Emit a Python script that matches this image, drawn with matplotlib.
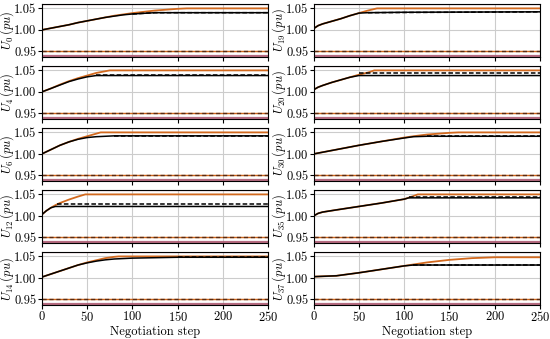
import matplotlib
matplotlib.use("Agg")
import matplotlib.pyplot as plt

plt.rcParams['font.family'] = 'serif'
plt.rcParams['font.serif'] = ['cmr10', 'DejaVu Serif']
plt.rcParams['mathtext.fontset'] = 'cm'
plt.rcParams['axes.formatter.use_mathtext'] = True
plt.rcParams['font.size'] = 9

# node labels, left column first then right column
nodes = ['0', '4', '6', '12', '14', '19', '20', '30', '35', '37']

# each series: (steps, values)
orange = {
    '0': ([0, 10, 20, 30, 40, 50, 60, 70, 80, 90, 100, 125, 150, 160, 250],
          [1.000, 1.004, 1.008, 1.012, 1.017, 1.021, 1.025, 1.029, 1.033, 1.036, 1.039, 1.045, 1.049, 1.050, 1.050]),
    '4': ([0, 10, 20, 30, 40, 50, 60, 70, 75, 250],
          [1.000, 1.008, 1.017, 1.025, 1.032, 1.038, 1.044, 1.048, 1.050, 1.050]),
    '6': ([0, 10, 20, 30, 40, 50, 60, 65, 250],
          [1.000, 1.010, 1.020, 1.028, 1.035, 1.041, 1.047, 1.050, 1.050]),
    '12': ([0, 5, 10, 15, 20, 30, 40, 48, 250],
           [1.003, 1.012, 1.019, 1.025, 1.030, 1.038, 1.045, 1.050, 1.050]),
    '14': ([0, 10, 20, 30, 40, 50, 60, 70, 80, 85, 250],
           [1.002, 1.009, 1.016, 1.023, 1.030, 1.036, 1.041, 1.046, 1.049, 1.050, 1.050]),
    '19': ([0, 5, 10, 20, 30, 40, 50, 60, 70, 250],
           [1.003, 1.010, 1.014, 1.020, 1.026, 1.033, 1.039, 1.045, 1.050, 1.050]),
    '20': ([0, 5, 10, 20, 30, 40, 50, 60, 67, 250],
           [1.005, 1.011, 1.015, 1.022, 1.028, 1.034, 1.040, 1.045, 1.050, 1.050]),
    '30': ([0, 25, 50, 75, 100, 110, 125, 150, 160, 250],
           [1.000, 1.010, 1.020, 1.029, 1.038, 1.041, 1.045, 1.049, 1.050, 1.050]),
    '35': ([0, 5, 10, 25, 50, 75, 100, 110, 115, 250],
           [1.000, 1.006, 1.009, 1.014, 1.022, 1.030, 1.039, 1.046, 1.050, 1.050]),
    '37': ([0, 25, 50, 75, 100, 125, 150, 175, 200, 250],
           [1.003, 1.005, 1.012, 1.020, 1.028, 1.036, 1.042, 1.046, 1.048, 1.048]),
}

black = {
    '0': ([0, 10, 20, 30, 40, 50, 60, 70, 80, 90, 100, 125, 250],
          [1.000, 1.004, 1.008, 1.012, 1.017, 1.021, 1.025, 1.029, 1.032, 1.035, 1.037, 1.040, 1.040]),
    '4': ([0, 10, 20, 30, 40, 50, 60, 250],
          [1.000, 1.008, 1.016, 1.024, 1.030, 1.035, 1.038, 1.038]),
    '6': ([0, 10, 20, 30, 40, 50, 60, 70, 80, 250],
          [1.000, 1.010, 1.020, 1.028, 1.034, 1.038, 1.040, 1.041, 1.042, 1.042]),
    '12': ([0, 5, 10, 15, 250],
           [1.003, 1.012, 1.019, 1.022, 1.022]),
    '14': ([0, 10, 20, 30, 40, 50, 60, 70, 80, 100, 125, 150, 250],
           [1.002, 1.009, 1.016, 1.023, 1.030, 1.035, 1.039, 1.042, 1.044, 1.046, 1.047, 1.048, 1.048]),
    '19': ([0, 5, 10, 20, 30, 40, 50, 60, 100, 250],
           [1.003, 1.010, 1.014, 1.020, 1.026, 1.033, 1.039, 1.040, 1.041, 1.042]),
    '20': ([0, 5, 10, 20, 30, 40, 50, 250],
           [1.005, 1.011, 1.015, 1.022, 1.028, 1.034, 1.038, 1.038]),
    '30': ([0, 25, 50, 75, 100, 110, 125, 250],
           [1.000, 1.010, 1.020, 1.029, 1.037, 1.040, 1.041, 1.041]),
    '35': ([0, 5, 10, 25, 50, 75, 100, 105, 250],
           [1.000, 1.006, 1.009, 1.014, 1.022, 1.030, 1.039, 1.042, 1.042]),
    '37': ([0, 25, 50, 75, 100, 110, 250],
           [1.003, 1.005, 1.012, 1.020, 1.028, 1.030, 1.030]),
}

dashed = {
    '0': ([100, 125, 250], [1.037, 1.040, 1.040]),
    '4': ([60, 250], [1.040, 1.040]),
    '6': ([80, 250], [1.042, 1.042]),
    '12': ([17, 250], [1.027, 1.027]),
    '14': ([150, 250], [1.048, 1.048]),
    '19': ([60, 250], [1.040, 1.042]),
    '20': ([50, 250], [1.043, 1.043]),
    '30': ([125, 250], [1.041, 1.041]),
    '35': ([105, 250], [1.043, 1.043]),
    '37': ([110, 250], [1.031, 1.031]),
}

v_low, v_high = 0.95, 1.05
v_min, v_max = 0.94, 1.06

fig, axes = plt.subplots(5, 2, figsize=(5.5, 3.39), dpi=100, sharex=True)
fig.subplots_adjust(left=0.076, right=0.982, top=0.988, bottom=0.1,
                    hspace=0.17, wspace=0.2)

for i, n in enumerate(nodes):
    ax = axes[i % 5, i // 5]
    ax.grid(True, color='#cccccc', lw=0.8)
    ax.set_axisbelow(True)
    ax.axhline(v_min, color='#a8506a', lw=1.6, alpha=0.85)
    ax.axhline(v_max, color='#a8506a', lw=1.6, alpha=0.85)
    ax.axhline(v_low, color='#d2691e', lw=1.0)
    ax.axhline(v_low, color='#5a2a10', lw=1.0, ls=(0, (3, 2)))
    ax.plot(*orange[n], color='#d2691e', lw=1.3)
    ax.plot(*black[n], color='black', lw=1.1)
    ax.plot(*dashed[n], color='black', lw=1.1, ls=(0, (3, 1.5)))
    ax.set_xlim(0, 250)
    ax.set_ylim(0.937, 1.060)
    ax.set_yticks([0.95, 1.00, 1.05])
    ax.set_yticklabels(['0.95', '1.00', '1.05'])
    ax.set_xticks([0, 50, 100, 150, 200, 250])
    ax.set_ylabel(r'$U_{%s}\,(pu)$' % n, fontsize=9)
    ax.yaxis.set_label_coords(-0.112, 0.5)
    ax.tick_params(length=3, pad=0.8)
    if i % 5 == 4:
        ax.set_xlabel('Negotiation step')
        ax.xaxis.set_label_coords(0.5, -0.385)

fig.savefig('out.png', dpi=100)
